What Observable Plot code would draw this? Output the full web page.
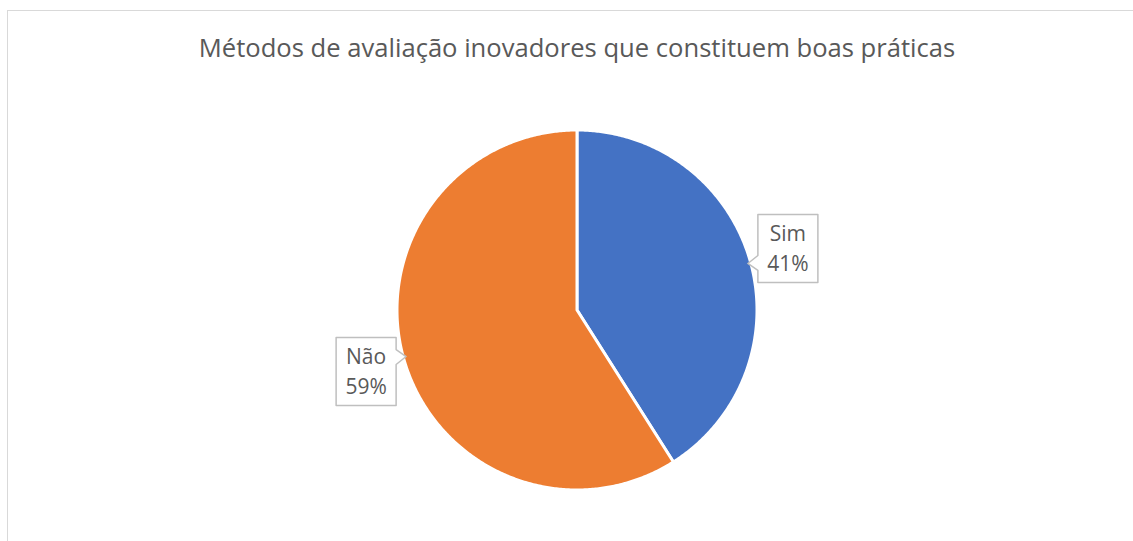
<!DOCTYPE html>
<html>
<head>
<meta charset="utf-8">
<script src="https://cdn.jsdelivr.net/npm/d3@7"></script>
<script src="https://cdn.jsdelivr.net/npm/@observablehq/plot@0.6"></script>
<style>
  html, body { margin: 0; padding: 0; background: #fff; }
  #wrap { position: relative; width: 1133px; height: 541px; overflow: hidden; font-family: "Open Sans", sans-serif; }
  #frame { position: absolute; left: 7px; top: 10px; width: 1300px; height: 700px; border: 1.5px solid #d9d9d9; box-sizing: border-box; }
  #title { position: relative; height: 95px; box-sizing: border-box; padding-top: 32px; padding-left: 21px; line-height: 32px; text-align: center; font-size: 25.6px; color: #595959; white-space: nowrap; }
  #chart { position: relative; }
  #chart svg { display: block; }
</style>
</head>
<body>
<div id="wrap">
  <div id="frame"></div>
  <div id="title">Métodos de avaliação inovadores que constituem boas práticas</div>
  <div id="chart"></div>
</div>
<script>
const categories = ["Sim", "Não"];
const values = [41, 59];
const colors = ["#4472C4", "#ED7D31"];

const data = categories.map((label, i) => ({label, value: values[i]}));
const total = d3.sum(values);
const arcs = d3.pie().sort(null).value(d => d.value)(data);

// slice outlines in unit-circle coordinates
const slicePts = [];
for (const a of arcs) {
  slicePts.push({label: a.data.label, x: 0, y: 0});
  const n = Math.max(2, Math.ceil((a.endAngle - a.startAngle) / (Math.PI / 360)));
  for (let k = 0; k <= n; k++) {
    const t = a.startAngle + (a.endAngle - a.startAngle) * k / n;
    slicePts.push({label: a.data.label, x: Math.sin(t), y: Math.cos(t)});
  }
}

const W = 1133, H = 446, R = 180, cx = 576.5, cy = 214.5;

// label anchors at mid-angle, outside the pie
const labelPts = arcs.map(a => {
  const m = (a.startAngle + a.endAngle) / 2;
  return {label: a.data.label, pct: Math.round(a.data.value / total * 100), x: 1.22 * Math.sin(m), y: 1.225 * Math.cos(m), side: Math.sin(m) >= 0 ? 1 : -1};
});

// callout box shapes (pixel offsets converted to unit coordinates)
const box = [[-30,-34],[30,-34],[30,34],[-30,34],[-30,22],[-40,15],[-30,7]];
const calloutPts = [];
for (const l of labelPts) {
  for (const [dx, dy] of box) {
    calloutPts.push({label: l.label, x: l.x + l.side * dx / R, y: l.y - l.side * dy / R});
  }
}

const chart = Plot.plot({
  width: W,
  height: H,
  margin: 0,
  style: {background: "transparent", fontFamily: "'Open Sans', sans-serif"},
  x: {domain: [-1, 1], range: [cx - R, cx + R], axis: null},
  y: {domain: [-1, 1], range: [cy + R, cy - R], axis: null},
  color: {domain: categories, range: colors},
  marks: [
    Plot.line(slicePts, {x: "x", y: "y", z: "label", fill: "label", stroke: "white", strokeWidth: 3, strokeLinejoin: "round", curve: "linear-closed"}),
    Plot.line(calloutPts, {x: "x", y: "y", z: "label", fill: "white", stroke: "#bfbfbf", strokeWidth: 1.5, curve: "linear-closed"}),
    Plot.text(labelPts, {x: "x", y: "y", dy: -2, text: d => `${d.label}\n${d.pct}%`, fontSize: 21, lineHeight: 1.4, fill: "#595959"})
  ]
});
document.getElementById("chart").appendChild(chart);
</script>
</body>
</html>
